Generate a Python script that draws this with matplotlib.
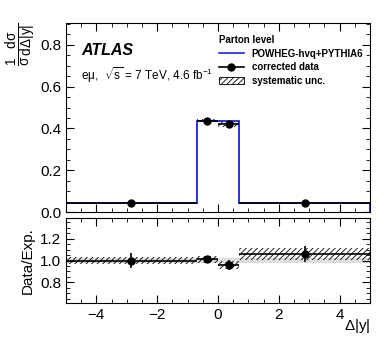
import numpy as np
import matplotlib.pyplot as plt
from matplotlib.ticker import MultipleLocator
from matplotlib.lines import Line2D
from matplotlib.patches import Patch

plt.rcParams['font.family'] = ['Liberation Sans', 'DejaVu Sans']
plt.rcParams['mathtext.fontset'] = 'custom'
plt.rcParams['mathtext.rm'] = 'Liberation Sans'
plt.rcParams['mathtext.it'] = 'Liberation Sans'
plt.rcParams['hatch.linewidth'] = 0.6
plt.rcParams['hatch.color'] = '#999999'

# binning in delta|y|
edges = [-5.0, -0.7, 0.0, 0.7, 5.0]
centers = [-2.85, -0.35, 0.35, 2.85]

mc = [0.043, 0.435, 0.435, 0.043]
data = [0.043, 0.437, 0.421, 0.044]
data_err = [0.003, 0.006, 0.012, 0.003]
data_syst = [0.002, 0.008, 0.012, 0.003]

ratio = [1.00, 1.01, 0.96, 1.06]
ratio_err = [0.07, 0.03, 0.045, 0.07]
ratio_syst = [0.035, 0.03, 0.035, 0.055]

fig = plt.figure(figsize=(3.9, 3.37), dpi=100)
ax1 = fig.add_axes([66/390, 1-212/337, 304/390, 189/337])
ax2 = fig.add_axes([66/390, 1-303/337, 304/390, 85/337])

def style(ax):
    ax.tick_params(which='both', direction='in', top=True, right=True, labelsize=11)
    ax.tick_params(which='major', length=6)
    ax.tick_params(which='minor', length=3)
    ax.xaxis.set_major_locator(MultipleLocator(2))
    ax.xaxis.set_minor_locator(MultipleLocator(0.5))
    ax.set_xlim(-5, 5)

# top panel
for i in range(4):
    ax1.fill_between([edges[i], edges[i+1]], data[i]-data_syst[i], data[i]+data_syst[i],
                     facecolor='none', hatch='//////', lw=0)
ax1.stairs(mc, edges, color='#2222dd', lw=1.3)
ax1.hlines(data, edges[:-1], edges[1:], color='black', lw=1.2)
ax1.errorbar(centers, data, yerr=data_err, fmt='o', color='black', ms=5, elinewidth=1.2)
ax1.set_ylim(0, 0.905)
ax1.yaxis.set_major_locator(MultipleLocator(0.2))
ax1.yaxis.set_minor_locator(MultipleLocator(0.05))
style(ax1)
ax1.tick_params(labelbottom=False)
ax1.set_ylabel(r'$\frac{1}{\sigma}\frac{\mathrm{d}\sigma}{\mathrm{d}\Delta|y|}$', fontsize=14, loc='top', labelpad=1)

ax1.text(0.05, 0.83, 'ATLAS', transform=ax1.transAxes, fontsize=11.5, fontweight='bold', style='italic')
ax1.text(0.05, 0.70, r'e$\mu$,  $\sqrt{\rm s}$ = 7 TeV, 4.6 fb$^{-1}$', transform=ax1.transAxes, fontsize=8.5)

handles = [Line2D([], [], color='#2222dd', lw=1.2),
           Line2D([], [], color='black', marker='o', ms=5, lw=1.2),
           Patch(facecolor='white', edgecolor='black', hatch='//////', lw=0.6)]
labels = ['POWHEG-hvq+PYTHIA6', 'corrected data', 'systematic unc.']
leg = ax1.legend(handles, labels, loc='upper right', bbox_to_anchor=(1.0, 0.97), frameon=False,
                 title='Parton level', prop={'size': 7, 'weight': 'bold'},
                 title_fontproperties={'size': 7, 'weight': 'bold'},
                 handlelength=2.6, labelspacing=0.35, borderaxespad=0.3)
leg._legend_box.align = 'left'

# ratio panel
ax2.axhspan(0.975, 1.025, color='#dddddd', lw=0)
for i in range(4):
    ax2.fill_between([edges[i], edges[i+1]], ratio[i]-ratio_syst[i], ratio[i]+ratio_syst[i],
                     facecolor='none', hatch='//////', lw=0)
ax2.hlines(ratio, edges[:-1], edges[1:], color='black', lw=1.2)
ax2.errorbar(centers, ratio, yerr=ratio_err, fmt='o', color='black', ms=5, elinewidth=1.2)
ax2.set_ylim(0.61, 1.39)
ax2.yaxis.set_major_locator(MultipleLocator(0.2))
ax2.yaxis.set_minor_locator(MultipleLocator(0.05))
style(ax2)
ax2.set_ylabel('Data/Exp.', fontsize=11)
ax2.set_xlabel(r'$\Delta$|y|', fontsize=11)
ax2.xaxis.set_label_coords(1.0, -0.17)
ax2.xaxis.label.set_horizontalalignment('right')

fig.savefig('out.png', dpi=100)
